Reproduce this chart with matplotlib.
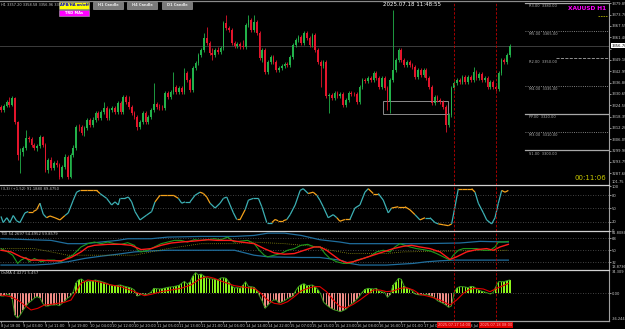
import matplotlib
matplotlib.use("Agg")
import matplotlib.pyplot as plt
import numpy as np
from matplotlib.collections import LineCollection
from matplotlib.lines import Line2D
from matplotlib.patches import Rectangle

W, H = 625, 329

# ---------------- XAUUSD H1 candles (bar 0 = 8 Jul 18:00) ----------------
first_open = 3323.6
closes = [3321.9, 3324.1, 3326.3, 3324.7, 3328.5, 3315.5, 3297.5, 3299.2, 3301.3, 3306.8,
          3306.2, 3303.0, 3301.3, 3302.4, 3307.3, 3303.0, 3289.4, 3294.8, 3290.5, 3293.2,
          3292.1, 3285.6, 3291.0, 3296.5, 3285.6, 3297.5, 3301.3, 3312.7, 3312.5, 3309.5,
          3312.2, 3316.5, 3313.8, 3316.5, 3320.3, 3317.6, 3320.9, 3323.0, 3317.6, 3321.9,
          3323.0, 3320.9, 3325.7, 3320.9, 3329.0, 3326.3, 3323.6, 3320.3, 3318.2, 3312.7,
          3315.5, 3320.3, 3315.5, 3318.2, 3321.9, 3325.2, 3323.6, 3323.0, 3322.8, 3331.2,
          3329.0, 3331.7, 3334.4, 3331.7, 3333.9, 3331.7, 3342.0, 3338.2, 3332.8, 3344.7,
          3347.5, 3351.8, 3354.5, 3361.0, 3358.3, 3352.9, 3351.8, 3354.5, 3353.4, 3355.6,
          3369.2, 3366.4, 3365.4, 3358.3, 3356.7, 3357.8, 3356.7, 3356.1, 3368.1, 3370.8,
          3365.4, 3369.7, 3363.7, 3350.2, 3354.5, 3342.6, 3348.0, 3350.7, 3348.0, 3343.7,
          3344.7, 3345.8, 3346.9, 3346.4, 3350.7, 3357.2, 3359.9, 3361.6, 3358.3, 3363.7,
          3361.0, 3357.2, 3362.6, 3354.5, 3348.0, 3345.8, 3348.0, 3329.5, 3330.1, 3328.5,
          3331.2, 3329.5, 3330.6, 3324.7, 3327.4, 3331.2, 3330.6, 3330.4, 3326.3, 3334.4,
          3338.2, 3337.7, 3339.3, 3338.2, 3342.0, 3339.3, 3334.4, 3339.3, 3333.9, 3326.3,
          3338.2, 3343.7, 3349.1, 3354.5, 3349.1, 3346.4, 3348.0, 3346.4, 3345.3, 3339.9,
          3343.7, 3340.9, 3343.7, 3339.3, 3334.4, 3325.7, 3329.0, 3327.4, 3326.3, 3323.6,
          3313.8, 3319.2, 3333.9, 3336.6, 3338.2, 3337.1, 3339.9, 3337.1, 3339.9, 3338.2,
          3342.6, 3339.3, 3341.5, 3338.2, 3339.3, 3334.4, 3337.1, 3334.4, 3333.3, 3342.0,
          3349.1, 3348.0, 3351.8, 3356.7]
highs = [3324.7, 3325.2, 3327.4, 3329.0, 3329.5, 3329.0, 3316.0, 3301.3, 3302.4, 3311.1,
         3307.8, 3307.3, 3304.0, 3303.5, 3308.4, 3307.8, 3304.0, 3295.9, 3296.5, 3294.3,
         3294.8, 3293.2, 3292.1, 3298.1, 3297.5, 3298.6, 3303.0, 3313.8, 3314.4, 3313.8,
         3313.3, 3317.6, 3317.6, 3318.2, 3321.4, 3321.4, 3321.9, 3326.3, 3324.1, 3323.0,
         3324.1, 3324.1, 3326.8, 3326.8, 3330.1, 3330.1, 3329.5, 3324.7, 3321.4, 3319.2,
         3316.5, 3321.4, 3321.4, 3319.2, 3323.0, 3336.6, 3326.3, 3325.2, 3324.7, 3332.3,
         3332.3, 3332.8, 3342.6, 3335.5, 3335.0, 3335.0, 3344.7, 3343.1, 3339.3, 3345.8,
         3348.5, 3352.9, 3355.6, 3363.7, 3367.0, 3359.4, 3355.6, 3355.6, 3356.1, 3356.7,
         3370.2, 3373.5, 3367.5, 3366.4, 3359.4, 3358.8, 3358.8, 3359.9, 3369.2, 3373.5,
         3371.9, 3373.5, 3370.8, 3364.8, 3355.6, 3355.6, 3349.1, 3351.8, 3351.8, 3349.1,
         3345.8, 3346.9, 3348.0, 3348.0, 3351.8, 3358.3, 3361.0, 3362.6, 3362.6, 3364.8,
         3364.8, 3362.1, 3363.7, 3363.7, 3355.6, 3349.1, 3349.1, 3349.1, 3331.2, 3331.2,
         3332.3, 3332.3, 3331.7, 3331.7, 3328.5, 3332.3, 3332.3, 3331.7, 3331.7, 3335.5,
         3339.3, 3339.3, 3340.4, 3340.4, 3343.1, 3343.1, 3340.4, 3340.4, 3340.4, 3335.0,
         3339.3, 3376.2, 3350.2, 3355.6, 3355.6, 3350.2, 3349.1, 3349.1, 3347.5, 3346.4,
         3344.7, 3344.7, 3344.7, 3344.7, 3340.4, 3335.5, 3330.1, 3330.1, 3328.5, 3327.4,
         3324.7, 3320.3, 3335.0, 3337.7, 3339.3, 3339.3, 3340.9, 3340.9, 3340.9, 3340.9,
         3345.3, 3343.7, 3342.6, 3342.6, 3340.4, 3340.4, 3338.2, 3338.2, 3335.5, 3343.1,
         3350.2, 3350.2, 3352.9, 3357.8]
lows = [3320.9, 3320.9, 3323.6, 3323.6, 3324.1, 3314.4, 3294.8, 3287.8, 3297.0, 3300.2,
        3304.6, 3301.9, 3300.2, 3299.7, 3301.3, 3301.9, 3288.3, 3287.8, 3289.4, 3289.4,
        3291.0, 3284.5, 3285.1, 3289.9, 3284.5, 3285.1, 3296.5, 3300.2, 3310.6, 3308.4,
        3307.8, 3311.1, 3312.7, 3312.7, 3315.5, 3316.5, 3316.5, 3319.8, 3316.5, 3316.5,
        3320.9, 3319.8, 3319.8, 3319.8, 3319.8, 3325.2, 3322.5, 3319.2, 3317.1, 3311.1,
        3311.7, 3314.4, 3314.4, 3314.4, 3317.1, 3320.9, 3322.5, 3321.9, 3321.9, 3321.9,
        3327.9, 3327.9, 3330.6, 3330.6, 3330.6, 3330.6, 3330.6, 3337.1, 3331.7, 3331.7,
        3343.7, 3346.4, 3350.7, 3353.4, 3357.2, 3351.8, 3349.1, 3350.7, 3352.3, 3352.3,
        3354.5, 3365.4, 3364.3, 3357.2, 3355.6, 3355.6, 3355.0, 3355.0, 3355.0, 3367.0,
        3364.3, 3364.3, 3362.6, 3349.1, 3348.0, 3341.5, 3341.5, 3346.9, 3346.9, 3342.6,
        3342.6, 3343.7, 3344.7, 3345.3, 3345.3, 3349.6, 3356.1, 3358.8, 3357.2, 3357.2,
        3359.9, 3356.1, 3356.1, 3353.4, 3346.9, 3334.4, 3344.7, 3328.5, 3320.3, 3327.4,
        3327.4, 3328.5, 3328.5, 3323.6, 3323.6, 3326.3, 3329.5, 3329.5, 3325.2, 3325.2,
        3333.3, 3336.6, 3336.6, 3337.1, 3337.1, 3338.2, 3333.3, 3333.3, 3332.8, 3321.9,
        3320.3, 3337.1, 3342.6, 3348.0, 3348.0, 3345.3, 3345.3, 3345.3, 3344.2, 3338.8,
        3338.8, 3339.9, 3339.9, 3338.2, 3333.3, 3324.7, 3324.7, 3326.3, 3325.2, 3322.5,
        3310.0, 3312.7, 3318.2, 3332.8, 3335.5, 3336.1, 3336.1, 3336.1, 3336.1, 3337.1,
        3337.1, 3338.2, 3338.2, 3337.1, 3337.1, 3333.3, 3333.3, 3333.3, 3332.3, 3332.3,
        3340.9, 3346.9, 3346.9, 3350.7]

price_ticks = [3379.85, 3373.70, 3367.55, 3361.40, 3355.25, 3349.10, 3342.95, 3336.80,
               3330.65, 3324.50, 3318.35, 3312.20, 3306.05, 3299.90, 3293.75, 3287.60]

time_labels = ["8 Jul 18:00", "9 Jul 03:00", "9 Jul 11:00", "9 Jul 19:00", "10 Jul 04:00",
               "10 Jul 12:00", "10 Jul 20:00", "11 Jul 05:00", "11 Jul 13:00", "11 Jul 21:00",
               "14 Jul 06:00", "14 Jul 14:00", "14 Jul 22:00", "15 Jul 07:00", "15 Jul 15:00",
               "15 Jul 23:00", "16 Jul 08:00", "16 Jul 16:00", "17 Jul 01:00", "17 Jul 09:00",
               "17 Jul 17:00", "18 Jul 02:00", "18 Jul 10:00"]

# level lines drawn at the right edge
pivot_names = ["R3", "M5", "R2", "M4", "PP", "M3", "S1"]
pivot_prices = [3380.00, 3365.00, 3350.00, 3335.00, 3320.00, 3310.00, 3300.00]
pivot_styles = ["-", ":", "--", ":", "-", ":", "-"]

vline_bars = [163, 178]
vline_text = ["2025.07.17 14:00", "2025.07.18 08:00"]
box_bars = (137.4, 160.8)
box_prices = (3319.8, 3326.8)

# ---------------- stochastic (panel 2) ----------------
stoch_x = [0, 0.8, 2.1, 3.2, 4.4, 5.6, 6.8, 8.6, 9.8, 11.6, 12.8, 14.0, 15.2, 16.4, 17.6,
           19.4, 21.2, 23.0, 24.2, 26.0, 27.2, 28.4, 30.8, 33.2, 34.4, 35.6, 38.0, 39.8,
           41.0, 42.2, 42.8, 44.6, 45.8, 47.0, 48.2, 50.0, 52.4, 54.2, 55.4, 57.2, 59.6,
           62.0, 63.8, 65.0, 66.2, 68.0, 69.8, 71.6, 72.8, 74.0, 75.2, 77.0, 78.8, 80.0,
           81.2, 82.4, 83.6, 84.8, 86.0, 87.8, 89.0, 90.8, 92.6, 93.8, 95.6, 97.4, 98.6,
           99.7, 101.5, 102.8, 104.0, 105.8, 107.6, 108.7, 110.5, 112.3, 113.6, 114.7,
           115.9, 117.7, 119.5, 120.8, 121.9, 123.7, 125.5, 127.3, 129.1, 130.9, 132.1,
           133.9, 135.7, 137.5, 139.3, 140.5, 142.9, 145.3, 147.1, 148.9, 150.7, 152.5,
           154.3, 156.1, 157.3, 159.1, 160.9, 162.1, 163.3, 164.5, 165.7, 167.5, 169.3,
           170.5, 171.7, 173.5, 174.7, 176.5, 177.7, 178.9, 180.1, 181.3, 182.5]
stoch_v = [32, 18, 29, 18, 34, 22, 18, 40, 43, 43, 47, 62, 37, 29, 33, 29, 24, 34, 40, 69,
           87, 91, 91, 91, 91, 84, 73, 58, 65, 58, 73, 73, 76, 65, 43, 24, 35, 43, 65, 80,
           80, 80, 73, 62, 65, 65, 80, 87, 84, 76, 62, 51, 62, 73, 76, 58, 40, 25, 25, 47,
           69, 73, 73, 54, 18, 18, 25, 22, 22, 25, 36, 58, 91, 95, 84, 87, 80, 69, 54, 29,
           36, 29, 21, 25, 25, 51, 58, 87, 95, 84, 84, 69, 40, 51, 54, 54, 47, 36, 24, 29,
           29, 18, 15, 13, 11, 15, 54, 95, 95, 95, 95, 87, 62, 40, 24, 15, 29, 62, 91, 87, 91]
stoch_orange = [(10, 13.5), (17, 22.5), (29, 36), (56, 63), (71, 75), (85, 88), (98, 103),
                (110, 113.5), (120.7, 126), (132.7, 136), (141.7, 148), (150, 152.5),
                (157, 161.5), (164.5, 170), (180, 182.5)]

# ---------------- TDI (panel 3) ----------------
up_x = [0, 18, 24, 30, 36, 42, 45.6, 54, 60, 72, 84, 91, 96, 102, 108, 114.7, 121.9, 125.5,
        132.7, 150.7, 165, 172.3, 182.5]
up_v = [67.5, 65, 60, 60, 62.5, 65, 67.5, 67.5, 70, 71, 71, 72.5, 76, 76, 72.5, 66, 62.5,
        60, 60, 60, 61, 63.5, 62.5]
lo_x = [0, 12, 18, 24, 30, 36, 42, 48, 54, 60, 84, 91, 96, 108, 114.7, 121.9, 125.5, 129.1,
        138.7, 148.3, 153.1, 157.9, 162.7, 182.5]
lo_v = [27.5, 27.5, 29, 32.5, 37.5, 41, 44, 47.5, 49, 50, 50, 42.5, 40, 39, 39, 35, 30, 27.5,
        27.5, 30, 32.5, 34, 35, 35]
rsi_x = [0, 2.4, 4.2, 6, 7.2, 9, 10.2, 12, 14.4, 16.8, 19.2, 21.6, 24, 25.8, 27.6, 28.8, 31.2,
         33.6, 36, 38.4, 40.8, 43.2, 45.6, 48, 49.2, 50.4, 52.8, 55.2, 57.6, 60, 62.4, 64.7,
         67.1, 69.5, 71.9, 74.3, 76.7, 79.1, 81.5, 83.9, 86.3, 88.7, 91.1, 92.9, 94.7, 95.9,
         98.3, 100.7, 103.1, 105.5, 107.9, 110.3, 112.7, 114.7, 116.5, 118.3, 120.7, 123.1,
         125.5, 127.9, 130.3, 132.7, 135.1, 137.5, 139.9, 141.7, 143.5, 145.3, 147.1, 149.5,
         151.9, 154.3, 156.7, 159.1, 161.5, 162.7, 164.5, 166.3, 168.7, 171.1, 173.5, 175.9,
         177.7, 178.9, 180.7, 182.5]
rsi_v = [52.5, 47.5, 42.5, 30, 35, 39, 32.5, 37.5, 32.5, 35, 35, 32.5, 39, 42.5, 50, 55, 60,
         62.5, 60, 62.5, 60, 59, 61.5, 57.5, 50, 47.5, 50, 55, 60, 62.5, 65, 65, 62.5, 66, 65,
         66, 67.5, 66, 70, 62.5, 64, 65, 60, 50, 42.5, 40, 42.5, 45, 50, 52.5, 57.5, 59, 55,
         55, 45, 37.5, 32.5, 30, 30, 35, 37.5, 41, 47.5, 50, 47.5, 55, 60, 57.5, 55, 52.5,
         51, 49, 45, 40, 35, 42.5, 50, 52.5, 52.5, 52.5, 50, 50, 55, 62.5, 62.5, 63.5]
sig_x = [0, 3.6, 7.2, 10.8, 14.4, 18, 21.6, 25.2, 28.8, 31.2, 33.6, 38.4, 43.2, 46.8, 50.4,
         54, 57.6, 61.2, 64.7, 69.5, 74.3, 77.9, 82.7, 86.3, 91.1, 94.7, 98.3, 101.9, 105.5,
         109.1, 112.7, 114.7, 117.1, 119.5, 121.9, 124.3, 126.7, 130.3, 133.9, 137.5, 141.1,
         144.7, 147.7, 150.7, 154.3, 157.9, 161.5, 163.9, 167.5, 171.1, 174.7, 177.1, 179.5,
         182.5]
sig_v = [50, 47.5, 40, 35, 35, 34, 34, 39, 47.5, 55, 57.5, 59, 59, 57.5, 51, 52.5, 57.5, 61,
         62.5, 64, 66, 65, 65, 62.5, 60, 52.5, 46, 44, 45, 50, 55, 55, 50, 42.5, 35, 31, 32.5,
         37.5, 42.5, 47.5, 52.5, 56, 57.5, 55, 52.5, 47.5, 36, 40, 47.5, 51, 52.5, 50, 55, 59]
base_x = [0, 12, 24, 48, 60, 72, 84, 90, 102, 115, 118.3, 125.5, 138.7, 144.7, 162.7, 182.5]
base_v = [52.5, 52.5, 42.5, 42.5, 52.5, 60, 60, 62.5, 60, 55, 50, 45, 45, 47.5, 49, 50]

# ---------------- OsMA histogram (panel 4), one value per bar ----------------
osma = [-4, -4, -2, -2, -8, -33, -37, -32, -25, -19,
        -14, -11, -7, -5, -7, -15, -19, -19, -17.5, -17.5,
        -17, -18.5, -15, -11, -7, -4, 2.5, 16, 20.5, 21.5,
        18, 17.5, 18, 19, 20, 19, 18, 16.5, 15, 13,
        12, 11.5, 12, 12.5, 11, 10, 9, 7.5, 5, -4,
        -2.5, -0.5, -2, -1, 2, 7.5, 7, 6.5, 7, 8,
        9, 9.5, 10, 11, 12, 15, 18, 14, 17, 26,
        31, 27.5, 29, 26, 23.5, 22, 21.5, 21, 20, 23,
        23.5, 22.5, 17, 11, 8, 8.5, 7.5, 12, 17.5, 10,
        10, 9, 5, -4, -12, -22.5, -18, -13.5, -10, -10,
        -14.5, -13, -11, -8, -6, -4, 4, 10, 13, 14.5,
        11.5, 12, 12.5, 10, 5.5, -1, -13, -17, -20.5, -23,
        -25, -26, -27.5, -26, -24, -20, -16, -13, -9, -4,
        2, 6, 7.5, 7, 6.5, 7.5, 3.5, 2, 1.5, -6,
        -2, 12, 17, 22.5, 21, 11, 7.5, 6.5, 3.5, -1,
        -2, -2.5, -2, -1.5, -3, -4.5, -7, -11, -13, -15,
        -17.5, -21, -19, 1, 8, 10, 10, 9.5, 8.5, 10.5,
        10, 7, 4.5, 3, 2, 0.5, -1, 1, 10, 17.5,
        17.5, 17.5, 19, 20]
osig_x = [0, 3.6, 6, 8.4, 10.8, 13.2, 15.6, 18, 20.4, 22.8, 25.2, 27, 28.8, 31.2, 33.6, 36,
          39.6, 43.2, 48, 51.6, 54, 57.6, 61.2, 64.7, 68.3, 71.9, 74.3, 76.7, 79.1, 81.5,
          83.9, 86.3, 88.7, 91.1, 93.5, 95.9, 98.3, 100.7, 103.1, 105.5, 107.9, 110.3, 112.7,
          114.7, 117.1, 119.5, 121.9, 124.3, 126.7, 129.1, 131.5, 133.9, 136.3, 138.7, 141.1,
          143.5, 145.9, 148.3, 150.7, 154.3, 157.9, 161.5, 163.9, 166.3, 168.7, 171.1, 173.5,
          175.9, 178.3, 180.7, 182.5]
osig_v = [-2.5, -5, -10, -17.5, -25, -22.5, -17.5, -16.5, -15, -13.5, -10, 2.5, 15, 20, 18.5,
          16.5, 12.5, 10, 2.5, -3.5, -1.5, 2.5, 5, 7.5, 12.5, 22.5, 25, 22.5, 18.5, 15, 11.5,
          10, 8.5, 7.5, 0, -10, -15, -16.5, -12.5, -5, 3.5, 7.5, 10, 10, 2.5, -10, -20, -21.5,
          -16.5, -10, -2.5, 5, 5, 2.5, 3.5, 7.5, 8.5, 5, -1.5, -5, -10, -17.5, -10, 0, 6.5,
          7.5, 6.5, 2.5, 7.5, 11.5, 15]

GRID = "#5a5a5a"
TXT = "#c8c8c8"
XLIM = (-0.36, 218.7)
FS = 2.7  # tiny terminal font


def fig_box(x0, y0, x1, y1):
    """pixel box (top-left origin) -> figure fraction rect"""
    return [x0 / W, 1 - y1 / H, (x1 - x0) / W, (y1 - y0) / H]


def fx(px):
    return px / W


def fy(py):
    return 1 - py / H


def style_axis(ax, ylim):
    ax.set_facecolor("black")
    ax.set_xlim(*XLIM)
    ax.set_ylim(*ylim)
    for s in ("top", "left", "bottom"):
        ax.spines[s].set_visible(False)
    ax.spines["right"].set_color("#a0a0a0")
    ax.spines["right"].set_linewidth(0.8)
    ax.yaxis.tick_right()
    ax.tick_params(axis="y", colors=TXT, labelsize=FS, length=1.5, width=0.5, pad=0.4)
    ax.tick_params(axis="x", bottom=False, labelbottom=False)


def side_label(ax, yfrac, text, va="center"):
    ax.text(1.004, yfrac, text, transform=ax.transAxes, color=TXT, fontsize=2.6,
            ha="left", va=va, clip_on=False)


fig = plt.figure(figsize=(W / 100, H / 100), dpi=100, facecolor="black")
ax1 = fig.add_axes(fig_box(0, 3, 609, 184.5))
ax2 = fig.add_axes(fig_box(0, 185.5, 609, 230.5))
ax3 = fig.add_axes(fig_box(0, 231.5, 609, 269))
ax4 = fig.add_axes(fig_box(0, 270, 609, 321))

# ---------------- main candles ----------------
style_axis(ax1, (3281.5, 3380.0))
c = np.array(closes)
o = np.array([first_open] + closes[:-1])
bars = np.arange(len(c))
up = c >= o
cols = np.where(up, "#22b24a", "#e3152c")
ax1.vlines(bars, lows, highs, colors=cols, linewidth=0.6)
ax1.bar(bars, np.maximum(np.abs(c - o), 0.3), bottom=np.minimum(o, c), width=0.62,
        color=cols, linewidth=0)
# the bid box hides the tick label it sits on, as in the terminal
ax1.set_yticks(price_ticks, ["" if abs(p - c[-1]) < 3 else f"{p:.2f}" for p in price_ticks])
ax1.axhline(c[-1], color="#3c3c3c", linewidth=0.7, zorder=0)
ax1.text(1.004, c[-1], f"{c[-1]:.2f}", transform=ax1.get_yaxis_transform(), fontsize=FS,
         color="black", va="center", ha="left", zorder=6,
         bbox=dict(boxstyle="square,pad=0.12", facecolor="white", edgecolor="none"))

ax1.add_patch(Rectangle((box_bars[0], box_prices[0]), box_bars[1] - box_bars[0],
                        box_prices[1] - box_prices[0], fill=False,
                        edgecolor="#8c8c8c", linewidth=0.7))

pivot_start = 188.5
for name, p, ls in zip(pivot_names, pivot_prices, pivot_styles):
    x0 = pivot_start + (11 if ls == "--" else 0)
    lw = 0.9 if ls == "-" else 0.6
    ax1.plot([x0, XLIM[1]], [p, p], color="#a8a8a8", linestyle=ls, linewidth=lw)
    ax1.text(pivot_start + 1.5, p - 0.7, f"{name}.00  {p:.2f}", color="#b0b0b0",
             fontsize=2.6, va="top", ha="left")

# ---------------- stochastic ----------------
style_axis(ax2, (0, 102.2))
for lvl in (80, 50, 20):
    ax2.axhline(lvl, color=GRID, linestyle=(0, (1, 2)), linewidth=0.6)
ax2.set_yticks([100, 80, 50, 20, 0], ["100", "80", "50", "20", "0"])
pts = np.column_stack([stoch_x, stoch_v])
segs = np.stack([pts[:-1], pts[1:]], axis=1)
mids = (pts[:-1, 0] + pts[1:, 0]) / 2
seg_cols = ["#f5a21b" if any(a <= m <= b for a, b in stoch_orange) else "#3cb0b4"
            for m in mids]
ax2.add_collection(LineCollection(segs, colors=seg_cols, linewidths=0.9))
side_label(ax2, 1.03, "101.75", va="bottom")

# ---------------- TDI ----------------
style_axis(ax3, (21.5, 78.5))
for lvl in (68, 50, 32):
    ax3.axhline(lvl, color=GRID, linestyle=(0, (1, 2)), linewidth=0.6)
ax3.set_yticks([68, 50, 32], ["68", "50", "32"])
ax3.plot(up_x, up_v, color="#1f6d9c", linewidth=0.9)
ax3.plot(lo_x, lo_v, color="#1f6d9c", linewidth=0.9)
ax3.plot(base_x, base_v, color="#8f8f10", linewidth=0.6, linestyle=(0, (1, 1.5)))
ax3.plot(rsi_x, rsi_v, color="#1e9a1e", linewidth=0.8)
ax3.plot(sig_x, sig_v, color="#ff1a1a", linewidth=1.0)
side_label(ax3, 1.0, "81.8084", va="top")
side_label(ax3, 0.0, "13.8736", va="bottom")

# ---------------- OsMA ----------------
style_axis(ax4, (-41.5, 35))
ax4.axhline(0, color=GRID, linestyle=(0, (1, 2)), linewidth=0.6)
ax4.set_yticks([0], ["0.00"])
hv = np.array(osma)
hcols = np.where(hv >= 0, "#8cf51a", "#ee8a84")
ax4.bar(bars, hv, width=0.55, color=hcols, linewidth=0)
ax4.plot(bars, hv, color="#3c9a22", linewidth=0.7)
ax4.plot(osig_x, osig_v, color="#e00000", linewidth=0.8)
side_label(ax4, 1.0, "34.309", va="top")
side_label(ax4, 0.0, "-36.244", va="bottom")

# time axis
ax4.set_xticks(np.arange(len(time_labels)) * 8)
ax4.set_xticklabels(time_labels, ha="left")
ax4.tick_params(axis="x", bottom=True, labelbottom=True, colors=TXT, labelsize=2.6,
                length=1.5, width=0.5, pad=1)
for b, t in zip(vline_bars, vline_text):
    ax4.text(b, -0.035, t, transform=ax4.get_xaxis_transform(), ha="center", va="top",
             fontsize=2.6, color="#ffb0b0", zorder=5, clip_on=False,
             bbox=dict(boxstyle="square,pad=0.3", facecolor="#e00000", edgecolor="none"))

for ax in (ax1, ax2, ax3, ax4):
    for b in vline_bars:
        ax.axvline(b, color="#c00000", linestyle=(0, (3, 2)), linewidth=0.6)

# ---------------- frame lines ----------------
for yy, col in ((0.8, "#8a8a8a"), (184.9, "#d0d0d0"), (231.0, "#d0d0d0"),
                (269.5, "#d0d0d0"), (321.2, "#a0a0a0")):
    fig.add_artist(Line2D([0, fx(609)], [fy(yy), fy(yy)], color=col, linewidth=0.9))
fig.add_artist(Line2D([fx(598), fx(607)], [fy(16), fy(16)], color="#a8a800",
                      linewidth=0.6, linestyle=(0, (2, 1))))

# ---------------- texts and buttons ----------------
fig.text(fx(1), fy(4.5), "H1 3357.20 3358.58 3356.96 3358.50", color=TXT, fontsize=2.5,
         va="center", ha="left")
fig.text(fx(412), fy(5), "2025.07.18 11:48:55", color="white", fontsize=4.0,
         va="center", ha="center")
fig.text(fx(606), fy(8), "XAUUSD H1", color="#ff00ff", fontsize=4.2, weight="bold",
         va="center", ha="right")
fig.text(fx(606), fy(178), "00:11:06", color="#c8c800", fontsize=5, va="center", ha="right")
fig.text(fx(1), fy(188.5), "(3,3) (+1.52) 91.1880 89.4750", color=TXT, fontsize=2.7,
         va="center", ha="left")
fig.text(fx(1), fy(234), "TDI 54.2697 54.4952 59.8579", color=TXT, fontsize=2.7,
         va="center", ha="left")
fig.text(fx(1), fy(273), "OsMA 4.4271 5.457", color=TXT, fontsize=2.7,
         va="center", ha="left")

buttons = [((59, 2, 89, 8.5), "#ffff00", "APB/HA on/off", "#0000c8"),
           ((93, 2, 123, 8.5), "#7a7a7a", "H1 Candle", "#e8e8e8"),
           ((127, 2, 157, 8.5), "#7a7a7a", "H4 Candle", "#e8e8e8"),
           ((162, 2, 192, 8.5), "#7a7a7a", "D1 Candle", "#e8e8e8"),
           ((59, 10, 89, 16), "#ff00ff", "TRD MAs", "white")]
for (x0, y0, x1, y1), face, label, tcol in buttons:
    fig.add_artist(Rectangle((fx(x0), fy(y1)), fx(x1) - fx(x0), fy(y0) - fy(y1),
                             transform=fig.transFigure, facecolor=face,
                             edgecolor="#b0b0b0", linewidth=0.4))
    fig.text(fx((x0 + x1) / 2), fy((y0 + y1) / 2), label, color=tcol, fontsize=2.6,
             weight="bold", ha="center", va="center")

fig.savefig("out.png", dpi=100, facecolor="black")
